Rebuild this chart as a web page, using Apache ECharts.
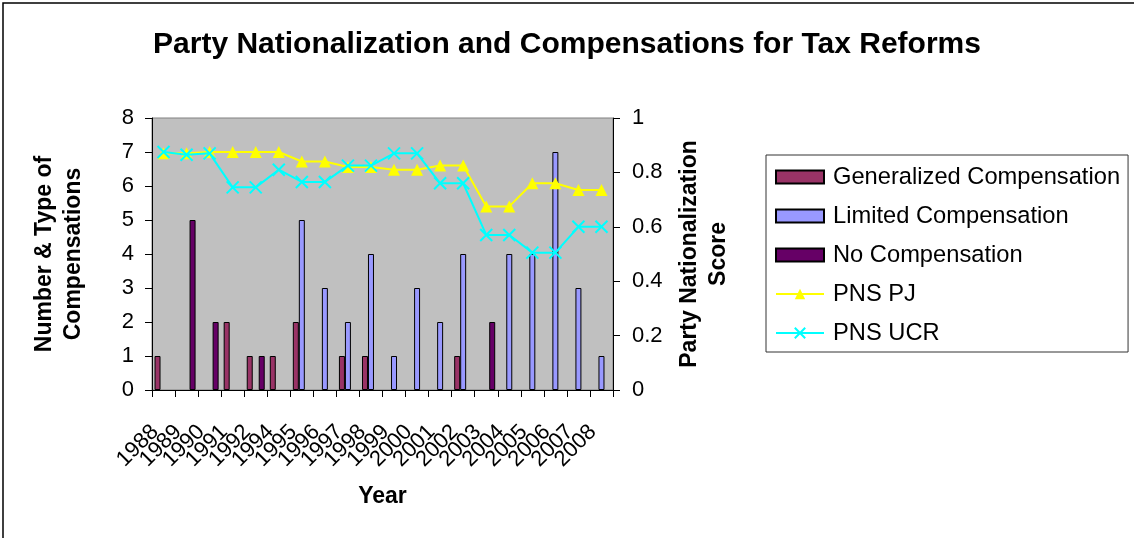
<!DOCTYPE html>
<html>
<head>
<meta charset="utf-8">
<script src="https://cdn.jsdelivr.net/npm/echarts@6/dist/echarts.min.js"></script>
<style>
  html, body { margin: 0; padding: 0; background: #ffffff; }
  #chart { width: 1134px; height: 538px; }
</style>
</head>
<body>
<div id="chart"></div>
<script>
// Reform years (1993 has no entry)
const years = ['1988','1989','1990','1991','1992','1994','1995','1996','1997','1998',
               '1999','2000','2001','2002','2003','2004','2005','2006','2007','2008'];

// Number of compensations of each type per year (null = none)
const generalized = [1, null, null, 2, 1, 1, 2, null, 1, 1, null, null, null, 1, null, null, null, null, null, null];
const limited     = [null, null, null, null, null, null, 5, 3, 2, 4, 1, 3, 2, 4, null, 4, 4, 7, 3, 1];
const noComp      = [null, 5, 2, null, 1, null, null, null, null, null, null, null, null, null, 2, null, null, null, null, null];

// Party nationalization scores
const pnsPJ  = [0.87, 0.87, 0.875, 0.875, 0.875, 0.875, 0.84, 0.84, 0.82, 0.82,
                0.81, 0.81, 0.825, 0.825, 0.675, 0.675, 0.76, 0.76, 0.735, 0.735];
const pnsUCR = [0.875, 0.865, 0.87, 0.745, 0.745, 0.81, 0.765, 0.765, 0.825, 0.825,
                0.87, 0.87, 0.76, 0.76, 0.57, 0.57, 0.505, 0.505, 0.6, 0.6];

const FONT = '"Liberation Sans", Arial, sans-serif';

const chart = echarts.init(document.getElementById('chart'), null, { renderer: 'canvas' });

function barSeries(name, data, color) {
  return {
    name: name,
    type: 'bar',
    yAxisIndex: 0,
    data: data,
    barGap: '0%',
    barCategoryGap: '22%',
    itemStyle: { color: color, borderColor: '#000000', borderWidth: 1 },
    emphasis: { disabled: true }
  };
}

chart.setOption({
  animation: false,
  backgroundColor: '#ffffff',
  textStyle: { fontFamily: FONT },
  title: {
    text: 'Party Nationalization and Compensations for Tax Reforms',
    left: 'center',
    top: 25,
    textStyle: { fontFamily: FONT, fontSize: 30, fontWeight: 'bold', color: '#000000' }
  },
  legend: {
    orient: 'vertical',
    left: 766,
    top: 155,
    padding: [10, 8, 7, 9],
    itemGap: 15,
    itemWidth: 48,
    itemHeight: 13,
    borderColor: '#333333',
    borderWidth: 1,
    backgroundColor: '#ffffff',
    textStyle: { fontFamily: FONT, fontSize: 23.7, color: '#000000', lineHeight: 24, padding: [0, 0, 0, 4] },
    data: [
      { name: 'Generalized Compensation', icon: 'rect' },
      { name: 'Limited Compensation', icon: 'rect' },
      { name: 'No Compensation', icon: 'rect' },
      'PNS PJ',
      'PNS UCR'
    ]
  },
  grid: {
    left: 152,
    right: 521,
    top: 118,
    bottom: 148,
    show: true,
    backgroundColor: '#C0C0C0',
    borderColor: '#808080',
    borderWidth: 1
  },
  xAxis: {
    type: 'category',
    data: years,
    boundaryGap: true,
    name: 'Year',
    nameLocation: 'middle',
    nameGap: 95,
    nameTextStyle: { fontFamily: FONT, fontSize: 23, fontWeight: 'bold', color: '#000000' },
    axisLine: { lineStyle: { color: '#000000', width: 1 } },
    axisTick: { show: true, interval: 0, length: 7, inside: false, lineStyle: { color: '#000000' } },
    axisLabel: {
      interval: 0,
      rotate: 45,
      margin: 30,
      padding: [0, 12, 0, 0],
      fontFamily: FONT,
      fontSize: 22,
      color: '#000000'
    },
    splitLine: { show: false }
  },
  yAxis: [
    {
      type: 'value',
      min: 0,
      max: 8,
      interval: 1,
      position: 'left',
      name: 'Number & Type of\nCompensations',
      nameLocation: 'middle',
      nameRotate: 90,
      nameGap: 64,
      nameTextStyle: { fontFamily: FONT, fontSize: 23, fontWeight: 'bold', color: '#000000', lineHeight: 29, align: 'center' },
      axisLine: { show: true, lineStyle: { color: '#000000', width: 1 } },
      axisTick: { show: true, length: 7, inside: false, lineStyle: { color: '#000000' } },
      axisLabel: { margin: 18, fontFamily: FONT, fontSize: 22, color: '#000000' },
      splitLine: { show: false }
    },
    {
      type: 'value',
      min: 0,
      max: 1,
      interval: 0.2,
      position: 'right',
      name: 'Party Nationalization\nScore',
      nameLocation: 'middle',
      nameRotate: 90,
      nameGap: 62,
      nameTextStyle: { fontFamily: FONT, fontSize: 23, fontWeight: 'bold', color: '#000000', lineHeight: 29, align: 'center' },
      axisLine: { show: true, lineStyle: { color: '#000000', width: 1 } },
      axisTick: { show: true, length: 7, inside: false, lineStyle: { color: '#000000' } },
      axisLabel: { margin: 19, fontFamily: FONT, fontSize: 22, color: '#000000' },
      splitLine: { show: false }
    }
  ],
  series: [
    barSeries('Generalized Compensation', generalized, '#993366'),
    barSeries('Limited Compensation', limited, '#9999FF'),
    barSeries('No Compensation', noComp, '#660066'),
    {
      name: 'PNS PJ',
      type: 'line',
      yAxisIndex: 1,
      data: pnsPJ,
      symbol: 'triangle',
      symbolSize: 12,
      lineStyle: { color: '#FFFF00', width: 2 },
      itemStyle: { color: '#FFFF00' },
      emphasis: { disabled: true },
      z: 5
    },
    {
      name: 'PNS UCR',
      type: 'line',
      yAxisIndex: 1,
      data: pnsUCR,
      symbol: 'path://M0,0L10,10M10,0L0,10',
      symbolSize: 12,
      lineStyle: { color: '#00FFFF', width: 2 },
      itemStyle: { color: '#00FFFF', borderColor: '#00FFFF', borderWidth: 2 },
      emphasis: { disabled: true },
      z: 6
    }
  ],
  graphic: [
    {
      type: 'rect',
      silent: true,
      shape: { x: 3, y: 3, width: 1200, height: 600 },
      style: { fill: null, stroke: '#000000', lineWidth: 1.5 },
      z: 100
    }
  ]
});
</script>
</body>
</html>
